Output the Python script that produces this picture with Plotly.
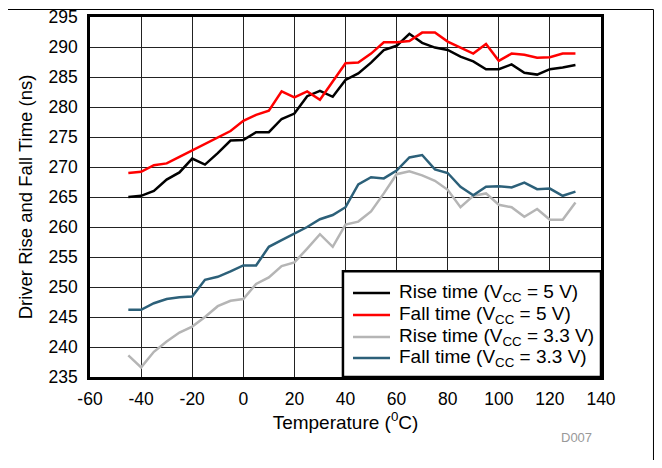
import plotly.graph_objects as go

temps = [-45, -40, -35, -30, -25, -20, -15, -10, -5, 0, 5, 10, 15, 20, 25, 30, 35, 40,
         45, 50, 55, 60, 65, 70, 75, 80, 85, 90, 95, 100, 105, 110, 115, 120, 125, 130]

rise_5v = [265.0, 265.2, 266.0, 267.9, 269.1, 271.4, 270.4, 272.3, 274.4, 274.5, 275.8, 275.8,
           278.0, 278.9, 281.8, 282.7, 281.7, 284.5, 285.6, 287.4, 289.5, 290.2, 292.2, 290.7,
           289.9, 289.5, 288.4, 287.6, 286.3, 286.3, 287.1, 285.7, 285.4, 286.3, 286.6, 287.0]

fall_5v = [269.0, 269.2, 270.3, 270.6, 271.7, 272.8, 273.8, 275.0, 276.0, 277.7, 278.7, 279.4,
           282.6, 281.6, 282.6, 281.2, 284.2, 287.3, 287.4, 288.9, 290.8, 290.8, 291.0, 292.4,
           292.4, 290.9, 289.9, 288.9, 290.5, 287.7, 288.9, 288.7, 288.2, 288.3, 288.9, 288.9]

rise_33v = [238.6, 236.6, 239.2, 240.9, 242.4, 243.4, 245.0, 246.8, 247.7, 248.0, 250.5, 251.6,
            253.5, 254.1, 256.4, 258.8, 256.7, 260.4, 260.9, 262.6, 265.6, 268.8, 269.3, 268.6,
            267.7, 266.2, 263.3, 265.2, 265.6, 263.7, 263.3, 261.7, 263.0, 261.2, 261.2, 264.1]

fall_33v = [246.2, 246.2, 247.3, 248.0, 248.3, 248.4, 251.2, 251.7, 252.6, 253.6, 253.6, 256.7,
            257.8, 258.9, 260.0, 261.3, 262.0, 263.3, 267.1, 268.3, 268.1, 269.4, 271.6, 272.0,
            269.6, 269.0, 266.7, 265.3, 266.7, 266.8, 266.6, 267.4, 266.3, 266.4, 265.2, 265.9]

series_names = ["Rise time (V<sub>CC</sub> = 5 V)", "Fall time (V<sub>CC</sub> = 5 V)",
                "Rise time (V<sub>CC</sub> = 3.3 V)", "Fall time (V<sub>CC</sub> = 3.3 V)"]
series_values = [rise_5v, fall_5v, rise_33v, fall_33v]
series_colors = ["#000000", "#ff0000", "#b5b5b5", "#2c6079"]

x_ticks = list(range(-60, 141, 20))
y_ticks = list(range(235, 296, 5))

FONT = "Liberation Sans, Arial, Helvetica, sans-serif"

fig = go.Figure()
for name, vals, color in zip(series_names, series_values, series_colors):
    fig.add_trace(go.Scatter(x=temps, y=vals, mode="lines", name=name,
                             line=dict(color=color, width=2.5)))

fig.update_layout(
    width=646, height=452,
    margin=dict(l=82, r=53, t=9, b=83, autoexpand=False),
    paper_bgcolor="white", plot_bgcolor="white",
    font=dict(family=FONT, size=17.5, color="black"),
    showlegend=False,
    xaxis=dict(range=[-60, 140], tickvals=x_ticks, ticktext=[str(v) for v in x_ticks],
               showgrid=True, gridcolor="#222222", gridwidth=1,
               showline=True, linecolor="black", linewidth=2.5, mirror=True,
               ticks="", zeroline=False, ticklabelstandoff=4, automargin=False,
               ticklabeloverflow="allow",
               tickfont=dict(family=FONT, size=17.5),
               title=dict(text="Temperature (<sup>0</sup>C)", standoff=2,
                          font=dict(family=FONT, size=19))),
    yaxis=dict(range=[235, 295], tickvals=y_ticks, ticktext=[str(v) for v in y_ticks],
               showgrid=True, gridcolor="#222222", gridwidth=1,
               showline=True, linecolor="black", linewidth=2.5, mirror=True,
               ticks="", zeroline=False, ticklabelstandoff=6, automargin=False,
               ticklabeloverflow="allow",
               tickfont=dict(family=FONT, size=17.5),
               title=dict(text="Driver Rise and Fall Time (ns)", standoff=12,
                          font=dict(family=FONT, size=18.5))),
)

# legend box (drawn manually to match the compact row spacing)
fig.add_shape(type="rect", xref="paper", yref="paper", x0=0.495, x1=1.0, y0=0.0, y1=0.294,
              fillcolor="white", line=dict(color="black", width=2.5), layer="above")
legend_rows = [0.2333, 0.1722, 0.1111, 0.0528]
for name, color, yrow in zip(series_names, series_colors, legend_rows):
    fig.add_shape(type="line", xref="paper", yref="paper", x0=0.5147, x1=0.5871,
                  y0=yrow, y1=yrow, line=dict(color=color, width=2.5), layer="above")
    fig.add_annotation(text=name, xref="paper", yref="paper", x=0.6007, y=yrow,
                       xanchor="left", yanchor="middle", showarrow=False,
                       font=dict(family=FONT, size=19, color="black"))

# outer frame lines (top and right)
fig.add_shape(type="line", xref="paper", yref="paper", x0=-0.1605, x1=1.1027, y0=1.0208, y1=1.0208,
              line=dict(color="black", width=1))
fig.add_shape(type="line", xref="paper", yref="paper", x0=1.1027, x1=1.1027, y0=1.0208, y1=-0.24,
              line=dict(color="black", width=1))

fig.add_annotation(text="D007", xref="paper", yref="paper", x=0.953, y=-0.167,
                   xanchor="center", yanchor="middle", showarrow=False,
                   font=dict(family=FONT, size=13, color="#999999"))

fig.write_html("out.html")
